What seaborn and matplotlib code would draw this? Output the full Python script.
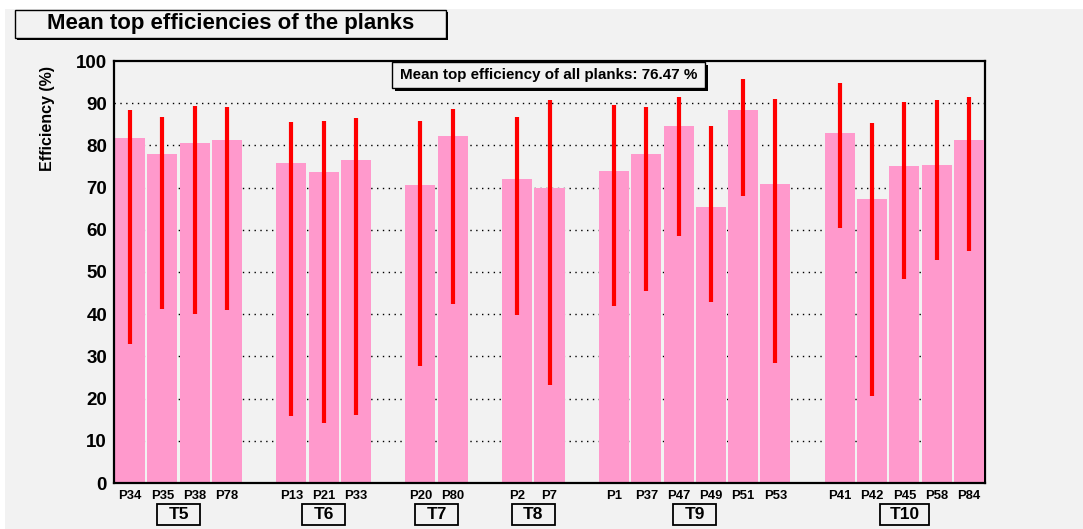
import numpy as np
import pandas as pd
import seaborn as sns
import matplotlib
matplotlib.use("Agg")
import matplotlib.pyplot as plt
from matplotlib.patches import Rectangle
import matplotlib.transforms as mtransforms

# ---------------- data ----------------
planks = ["P34", "P35", "P38", "P78", "P13", "P21", "P33", "P20", "P80", "P2", "P7",
          "P1", "P37", "P47", "P49", "P51", "P53", "P41", "P42", "P45", "P58", "P84"]
trays = ["T5"] * 4 + ["T6"] * 3 + ["T7"] * 2 + ["T8"] * 2 + ["T9"] * 6 + ["T10"] * 5
efficiency = [81.7, 78.0, 80.6, 81.3, 75.8, 73.7, 76.5, 70.6, 82.2, 72.0, 70.0,
              73.9, 78.0, 84.6, 65.4, 88.4, 70.9, 82.9, 67.3, 75.1, 75.4, 81.3]
err_low = [32.9, 41.2, 40.1, 41.1, 15.8, 14.1, 16.2, 27.8, 42.3, 39.8, 23.3,
           41.9, 45.5, 58.5, 42.8, 68.1, 28.5, 60.5, 20.6, 48.3, 52.8, 55.0]
err_high = [88.4, 86.7, 89.3, 89.2, 85.6, 85.7, 86.5, 85.7, 88.6, 86.7, 90.8,
            89.5, 89.2, 91.4, 84.6, 95.8, 90.9, 94.7, 85.2, 90.4, 90.8, 91.5]
mean_all = 76.47
title = "Mean top efficiencies of the planks"
ylabel = "Efficiency (%)"
yticks = [0, 10, 20, 30, 40, 50, 60, 70, 80, 90, 100]

# ---------------- style ----------------
BG = "#f2f2f2"
PINK = "#ff99cc"
RED = "#ff0000"
sns.set_theme(style="white")
plt.rcParams["font.family"] = ["Liberation Sans", "DejaVu Sans"]
plt.rcParams["font.weight"] = "bold"
for k in ["text.color", "axes.labelcolor", "xtick.color", "ytick.color"]:
    plt.rcParams[k] = "black"

df = pd.DataFrame({"plank": planks, "tray": trays, "eff": efficiency,
                   "lo": err_low, "hi": err_high})

# category order with an empty slot between trays
tray_order = list(dict.fromkeys(trays))
order = []
for i, t in enumerate(tray_order):
    order += [p for p, tt in zip(planks, trays) if tt == t]
    if i < len(tray_order) - 1:
        order.append(" " * (i + 1))

W, H = 1083, 529
fig = plt.figure(figsize=(W / 100, H / 100), dpi=100, facecolor=BG)
fig.patches.append(Rectangle((0, 1 - 9 / H), 1, 9 / H, transform=fig.transFigure,
                             facecolor="white", edgecolor="none", zorder=0))
fig.patches.append(Rectangle((0, 0), 5 / W, 1, transform=fig.transFigure,
                             facecolor="white", edgecolor="none", zorder=0))

ax = fig.add_axes([114 / W, 46 / H, 871 / W, 422 / H])
ax.set_facecolor(BG)

sns.barplot(data=df, x="plank", y="eff", order=order, color=PINK, saturation=1,
            width=0.93, errorbar=None, linewidth=0, edgecolor="none", ax=ax, zorder=2)

xpos = np.array([order.index(p) for p in planks])
ax.vlines(xpos, df["lo"], df["hi"], colors=RED, linewidth=3.0, zorder=3,
          capstyle="butt")

ax.set_ylim(0, 100)
ax.set_xlim(-0.5, len(order) - 0.5)
ax.set_yticks(yticks)
ax.set_yticklabels([str(v) for v in yticks], fontsize=13.5, fontweight="bold", color="black")
ax.set_xticks(xpos)
ax.set_xticklabels(planks, fontsize=9.4, fontweight="bold", color="black")
ax.tick_params(axis="both", length=0)
ax.tick_params(axis="y", pad=5)
ax.tick_params(axis="x", pad=5)

for v in yticks[1:-1]:
    ax.axhline(v, color="black", linewidth=1.0, linestyle=(0, (1, 3.2)), zorder=1)

for side in ["left", "bottom", "top", "right"]:
    ax.spines[side].set_visible(True)
    ax.spines[side].set_color("black")
    ax.spines[side].set_linewidth(1.6)
ax.spines["right"].set_zorder(1.5)

ax.set_xlabel("")
ax.set_ylabel(ylabel, fontsize=11.5, fontweight="bold", loc="top", color="black")
ax.yaxis.set_label_coords((55 - 114) / 871, (483 - 66) / 422)

# tray labels in boxes under the plank names
blend = mtransforms.blended_transform_factory(ax.transData, ax.transAxes)
for t in tray_order:
    idx = [order.index(p) for p, tt in zip(planks, trays) if tt == t]
    c = np.mean(idx)
    bw = 1.05 + 0.15 * len(t)
    y0, y1 = (483 - 525) / 422, (483 - 504) / 422
    ax.add_patch(Rectangle((c - bw / 2, y0), bw, y1 - y0, transform=blend,
                           facecolor=BG, edgecolor="black", linewidth=1.3,
                           clip_on=False, zorder=5))
    ax.text(c, (y0 + y1) / 2, t, transform=blend, ha="center", va="center",
            fontsize=12.5, fontweight="bold", color="black", zorder=6)


def pix_box(x0, y0, x1, y1, shadow, lw):
    fx0, fx1 = x0 / W, x1 / W
    fy0, fy1 = 1 - y1 / H, 1 - y0 / H
    if shadow:
        fig.patches.append(Rectangle((fx0 + shadow / W, fy0 - shadow / H), fx1 - fx0, fy1 - fy0,
                                     transform=fig.transFigure, facecolor="black",
                                     edgecolor="none", zorder=8))
    fig.patches.append(Rectangle((fx0, fy0), fx1 - fx0, fy1 - fy0, transform=fig.transFigure,
                                 facecolor=BG, edgecolor="black", linewidth=lw, zorder=9))
    return (fx0 + fx1) / 2, (fy0 + fy1) / 2


cx, cy = pix_box(15, 10, 446, 38, 2, 1.0)
fig.text(cx, cy, title, ha="center", va="center", fontsize=16, fontweight="bold",
         color="black", zorder=10)

cx, cy = pix_box(392, 62, 705, 88, 3, 1.0)
fig.text(cx, cy, f"Mean top efficiency of all planks: {mean_all:.2f} %", ha="center",
         va="center", fontsize=10.9, fontweight="bold", color="black", zorder=10)

fig.savefig("out.png", dpi=100, facecolor=BG)
